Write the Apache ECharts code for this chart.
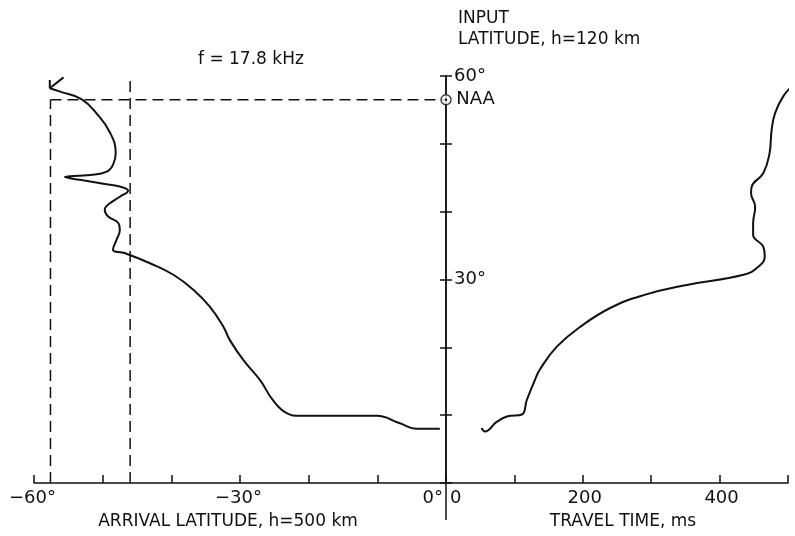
<!DOCTYPE html>
<html>
<head>
<meta charset="utf-8">
<script src="https://cdn.jsdelivr.net/npm/echarts@6/dist/echarts.min.js"></script>
<style>
  html, body { margin: 0; padding: 0; background: #fff; }
  #chart { width: 795px; height: 536px; }
</style>
</head>
<body>
<div id="chart"></div>
<script>
// arrival latitude (h=500 km) vs input latitude (h=120 km)
const arrivalLat = [-57.7, -56.2, -53.1, -50.9, -48.9, -48.1, -48.5, -49.4, -51.8, -55.5,
  -53.3, -49.9, -47.5, -46.3, -47.5, -49.0, -49.7, -49.2, -47.7, -47.5, -48.0, -48.5,
  -46.8, -43.1, -39.7, -36.8, -34.4, -32.4, -31.5, -29.5, -27.1, -25.2, -23.2, -21.3,
  -10.1, -6.7, -4.3, -0.9];
const arrivalInputLat = [58.2, 57.7, 56.6, 54.5, 51.6, 48.6, 46.9, 45.9, 45.4, 45.1,
  44.7, 44.1, 43.7, 43.1, 42.2, 41.2, 40.3, 39.3, 38.3, 37.3, 35.8, 34.4,
  33.9, 32.4, 30.7, 28.5, 26.0, 23.0, 21.1, 18.1, 15.2, 12.2, 10.3, 9.9,
  9.9, 8.8, 8.0, 8.0];
// little hook drawn at the top end of the arrival curve
const hookLat = [-57.7, -57.7, -55.7];
const hookInputLat = [59.4, 58.2, 59.8];

// travel time (ms) vs input latitude
const travelTime = [52, 57, 74, 89, 111, 118, 130, 137, 162, 196, 240, 289, 352, 435,
  457, 466, 464, 449, 449, 452, 446, 447, 464, 473, 476, 481, 493, 508];
const travelInputLat = [8.1, 7.6, 9.0, 9.8, 10.1, 12.2, 15.2, 16.7, 20.1, 23.0, 25.8, 27.7, 29.2, 30.7,
  31.9, 33.4, 34.8, 36.6, 38.3, 40.7, 42.7, 43.7, 45.7, 48.6, 52.0, 54.5, 57.0, 58.7];

// NAA transmitter latitude and the dashed guide lines
const naaLat = 56.5;
const guideLat = [-57.6, -46.0];
const guideTop = [56.5, 59.7];

const latTicks = [30, 60];
const arrivalTicks = [-60, -30, 0];
const timeTicks = [0, 200, 400];

const ink = '#111';
const font = 'DejaVu Sans';
const zip = (a, b) => a.map((v, i) => [v, b[i]]);

const myChart = echarts.init(document.getElementById('chart'));

const dashed = { color: ink, width: 1.5, type: [11, 6] };

const option = {
  animation: false,
  backgroundColor: '#fff',
  textStyle: { fontFamily: font, color: ink },
  title: [
    { text: 'f = 17.8 kHz', left: 198, top: 51, padding: 0,
      textStyle: { fontFamily: font, fontSize: 17, fontWeight: 'normal', color: ink } },
    { text: 'INPUT\nLATITUDE, h=120 km', left: 458, top: 8, padding: 0,
      textStyle: { fontFamily: font, fontSize: 17, fontWeight: 'normal', color: ink, lineHeight: 21 } },
  ],
  grid: [
    { left: 34, right: 349, top: 76, bottom: 53 },
    { left: 446, right: 7, top: 76, bottom: 53 },
  ],
  xAxis: [
    {
      gridIndex: 0, type: 'value', min: -60, max: 0, interval: 10,
      name: 'ARRIVAL LATITUDE, h=500 km', nameLocation: 'middle', nameGap: 30,
      nameTextStyle: { fontFamily: font, fontSize: 17, color: ink, padding: [0, 24, 0, 0] },
      axisLine: { lineStyle: { color: ink, width: 1.5 } },
      axisTick: { inside: true, length: 8, lineStyle: { color: ink, width: 1.5 } },
      axisLabel: {
        fontFamily: font, fontSize: 18, color: ink, margin: 6, alignMaxLabel: 'right',
        formatter: v => arrivalTicks.includes(v) ? (v < 0 ? '\u2212' : '') + Math.abs(v) + '°' : '',
        padding: [0, 3, 0, 0],
      },
      splitLine: { show: false },
    },
    {
      gridIndex: 1, type: 'value', min: 0, max: 500, interval: 100,
      name: 'TRAVEL TIME, ms', nameLocation: 'middle', nameGap: 30,
      nameTextStyle: { fontFamily: font, fontSize: 17, color: ink, padding: [0, 0, 0, 12] },
      axisLine: { lineStyle: { color: ink, width: 1.5 } },
      axisTick: { inside: true, length: 8, lineStyle: { color: ink, width: 1.5 } },
      axisLabel: {
        fontFamily: font, fontSize: 18, color: ink, margin: 6, alignMinLabel: 'left',
        formatter: v => timeTicks.includes(v) ? String(v) : '',
        padding: [0, 0, 0, 4],
      },
      splitLine: { show: false },
    },
  ],
  yAxis: [
    {
      gridIndex: 0, type: 'value', min: 0, max: 60, interval: 10, position: 'right',
      axisLine: { show: true, lineStyle: { color: ink, width: 1.5 } },
      axisTick: { show: true, length: 6, lineStyle: { color: ink, width: 1.5 } },
      axisLabel: { show: false },
      splitLine: { show: false },
    },
    {
      gridIndex: 1, type: 'value', min: 0, max: 60, interval: 10, position: 'left',
      axisLine: { show: true, lineStyle: { color: ink, width: 1.5 } },
      axisTick: { show: true, length: 6, lineStyle: { color: ink, width: 1.5 } },
      axisLabel: {
        inside: true, margin: 8, fontFamily: font, fontSize: 18, color: ink,
        formatter: v => latTicks.includes(v) ? v + '°' : '',
      },
      splitLine: { show: false },
    },
  ],
  graphic: [
    { type: 'line', shape: { x1: 446, y1: 483, x2: 446, y2: 520 },
      style: { stroke: ink, lineWidth: 1.5 } },
  ],
  series: [
    {
      name: 'arrival', type: 'line', xAxisIndex: 0, yAxisIndex: 0,
      data: zip(arrivalLat, arrivalInputLat), smooth: 0.45, showSymbol: false,
      lineStyle: { color: ink, width: 2 },
    },
    {
      name: 'hook', type: 'line', xAxisIndex: 0, yAxisIndex: 0,
      data: zip(hookLat, hookInputLat), showSymbol: false,
      lineStyle: { color: ink, width: 2 },
    },
    {
      name: 'travel', type: 'line', xAxisIndex: 1, yAxisIndex: 1,
      data: zip(travelTime, travelInputLat), smooth: 0.45, showSymbol: false, clip: false,
      lineStyle: { color: ink, width: 2 },
    },
    {
      name: 'naa-line', type: 'line', xAxisIndex: 0, yAxisIndex: 0,
      data: [[guideLat[0], naaLat], [0, naaLat]], showSymbol: false, lineStyle: dashed,
    },
    {
      name: 'guide-1', type: 'line', xAxisIndex: 0, yAxisIndex: 0,
      data: [[guideLat[0], 0], [guideLat[0], guideTop[0]]], showSymbol: false, lineStyle: dashed,
    },
    {
      name: 'guide-2', type: 'line', xAxisIndex: 0, yAxisIndex: 0,
      data: [[guideLat[1], 0], [guideLat[1], guideTop[1]]], showSymbol: false, lineStyle: dashed,
    },
    {
      name: 'NAA', type: 'scatter', xAxisIndex: 1, yAxisIndex: 1, clip: false,
      data: [[0, naaLat]], symbol: 'circle', symbolSize: 10, z: 5,
      itemStyle: { color: '#fff', borderColor: ink, borderWidth: 1.5 },
    },
    {
      name: 'NAA-dot', type: 'scatter', xAxisIndex: 1, yAxisIndex: 1, clip: false,
      data: [[0, naaLat]], symbol: 'circle', symbolSize: 2.5, z: 6,
      itemStyle: { color: ink, opacity: 1 },
      label: { show: true, position: 'right', distance: 9, formatter: 'NAA',
        fontFamily: font, fontSize: 18, color: '#111', opacity: 1, textBorderWidth: 0 },
    },
  ],
};

myChart.setOption(option);
window.addEventListener('resize', () => myChart.resize());
</script>
</body>
</html>
